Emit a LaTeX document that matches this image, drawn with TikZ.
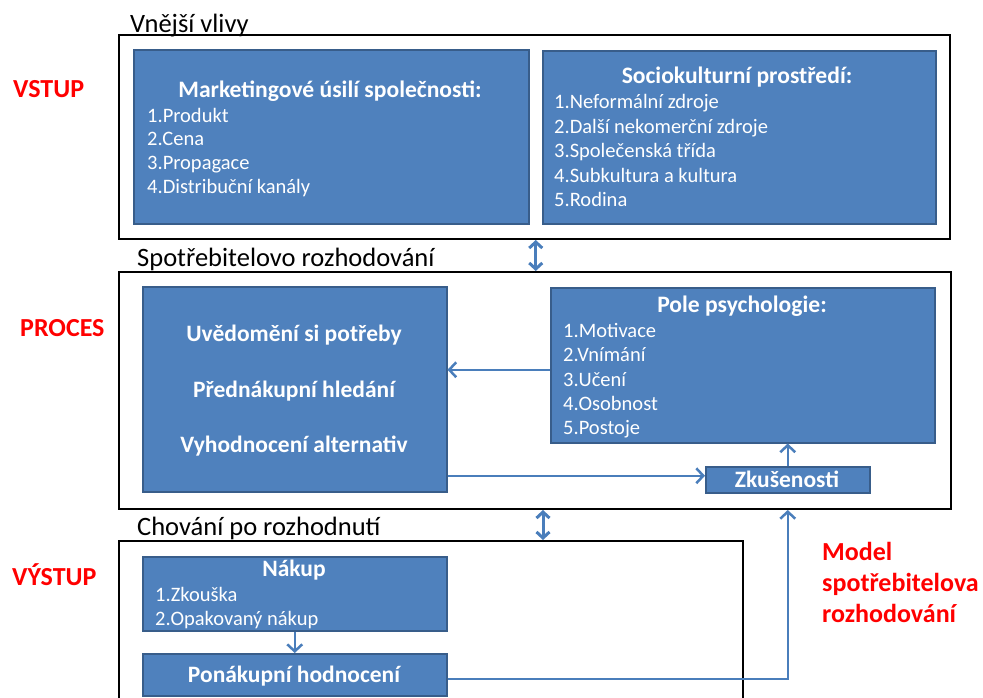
\documentclass[tikz,border=0pt]{standalone}
\usepackage{fontspec}
\setmainfont{Carlito}
\usetikzlibrary{arrows.meta,calc}
\definecolor{BoxClr}{rgb}{0.31,0.506,0.741}
\definecolor{EdgeClr}{rgb}{0.22,0.365,0.541}
\definecolor{LinkClr}{rgb}{0.29,0.494,0.733}

\begin{document}
\begin{tikzpicture}[x=1pt,y=-1pt,
  frame/.style={draw=black,line width=2pt,anchor=north west,inner sep=0pt},
  blok/.style={draw=EdgeClr,line width=1.5pt,fill=BoxClr,anchor=north west,inner sep=0pt},
  head/.style={font=\fontsize{23.6}{23.6}\selectfont\bfseries,text=white,anchor=base,inner sep=0pt},
  step text/.style={font=\fontsize{23.5}{23.5}\selectfont\bfseries,text=white,anchor=base,inner sep=0pt},
  item/.style={font=\fontsize{20.5}{20.5}\selectfont,text=white,anchor=base west,inner sep=0pt},
  title/.style={font=\fontsize{26.5}{26.5}\selectfont,anchor=base west,inner sep=0pt},
  phase/.style={font=\fontsize{26}{26}\selectfont\bfseries,text=red,anchor=base west,inner sep=0pt},
  link/.style={draw=LinkClr,line width=2.5pt,-{Straight Barb[length=7pt,width=15pt]}},
  both/.style={draw=LinkClr,line width=3pt,{Straight Barb[length=6pt,width=13pt]}-{Straight Barb[length=6pt,width=13pt]}}]
\clip (0,0) rectangle (983,697);

\node[frame,minimum width=831pt,minimum height=204pt] (vv) at (118,34) {};
\node[frame,minimum width=832pt,minimum height=237pt] (sr) at (118,271) {};
\node[frame,minimum width=624pt,minimum height=180pt] (cp) at (118,540) {};

\node[title] (vvT) at (130,32) {Vnější vlivy};
\node[title] (srT) at (137,266) {Spotřebitelovo rozhodování};
\node[title] (cpT) at (137,535) {Chování po rozhodnutí};

\node[phase] (vstup) at (13,97) {VSTUP};
\node[phase] (proces) at (20,336) {PROCES};
\node[phase] (vystup) at (12,585) {VÝSTUP};
\node[phase,anchor=north west,align=left,font=\fontsize{26}{31}\selectfont\bfseries] (model) at (822,542)
  {Model\\spotřebitelova\\rozhodování};

\node[blok,minimum width=395pt,minimum height=174pt] (mark) at (133,49) {};
\node[head] (markT) at (330,97) {Marketingové úsilí společnosti:};
\node[item] (m1) at (147,122) {1.Produkt};
\node[item] (m2) at (147,145) {2.Cena};
\node[item] (m3) at (147,169) {3.Propagace};
\node[item] (m4) at (147,193) {4.Distribuční kanály};

\node[blok,minimum width=393pt,minimum height=173pt] (socio) at (542,50) {};
\node[head] (socioT) at (737,83) {Sociokulturní prostředí:};
\node[item] (s1) at (554,108) {1.Neformální zdroje};
\node[item] (s2) at (554,133) {2.Další nekomerční zdroje};
\node[item] (s3) at (554,157) {3.Společenská třída};
\node[item] (s4) at (554,182) {4.Subkultura a kultura};
\node[item] (s5) at (554,206) {5.Rodina};

\node[blok,minimum width=304pt,minimum height=205pt] (proc) at (142,286) {};
\node[step text] (p1) at (294,341) {Uvědomění si potřeby};
\node[step text] (p2) at (294,397) {Přednákupní hledání};
\node[step text] (p3) at (294,452) {Vyhodnocení alternativ};

\node[blok,minimum width=384pt,minimum height=155pt] (psych) at (550,287) {};
\node[head] (psychT) at (742,312) {Pole psychologie:};
\node[item] (q1) at (563,337) {1.Motivace};
\node[item] (q2) at (563,361) {2.Vnímání};
\node[item] (q3) at (563,386) {3.Učení};
\node[item] (q4) at (563,410) {4.Osobnost};
\node[item] (q5) at (563,434) {5.Postoje};

\node[blok,minimum width=164pt,minimum height=26pt] (zk) at (705,466) {};
\node[step text] (zkT) at (787,487) {Zkušenosti};

\node[blok,minimum width=304pt,minimum height=74pt] (nakup) at (142,556) {};
\node[step text] (nakupT) at (294,576) {Nákup};
\node[item] (n1) at (155,601) {1.Zkouška};
\node[item] (n2) at (155,625) {2.Opakovaný nákup};

\node[blok,minimum width=304pt,minimum height=42pt] (ponak) at (142,653) {};
\node[step text] (ponakT) at (294,682) {Ponákupní hodnocení};

\coordinate (gap) at ($(mark.south east)!.5!(socio.south west)$);
\draw[both] (gap |- vv.south) -- (gap |- sr.north);
\draw[both] ([xshift=-7pt]sr.south -| psych.west) -- ([xshift=-7pt]cp.north -| psych.west);
\draw[link] ([yshift=-4.5pt]psych.west) -- ([yshift=-4.5pt]psych.west -| proc.east);
\draw[link] ([yshift=4pt]zk.west -| proc.east) -- ([yshift=4pt]zk.west);
\draw[link] (zk.north) -- (zk.north |- psych.south);
\draw[link] (nakup.south) -- (ponak.north);
\draw[link] ([yshift=-4pt]ponak.east) -| (sr.south -| zk.north);

\end{tikzpicture}
\end{document}
